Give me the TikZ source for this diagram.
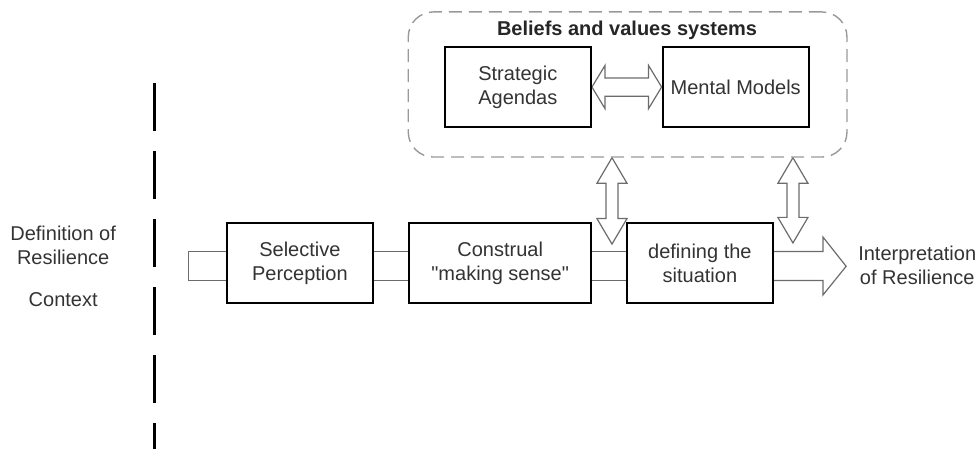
\documentclass[tikz,border=0pt]{standalone}
\usepackage{fontspec}
\setmainfont{Liberation Sans}
\usetikzlibrary{calc,backgrounds}
\tikzset{
  stage/.style={rectangle, draw=black, line width=1pt, fill=white, minimum width=2.57cm, minimum height=1.41cm, inner sep=2pt, align=center, text=black!80},
  widestage/.style={stage, minimum width=3.2cm},
  beliefs/.style={rectangle, draw=gray!80, dash pattern=on 6.5pt off 3.5pt, line width=0.7pt, rounded corners=0.44cm, minimum width=7.71cm, minimum height=2.55cm},
  hollow/.style={draw=gray!85!black, fill=white, line width=0.6pt},
  band/.style={draw=gray!85!black, line width=0.6pt, double=white, double distance=0.49cm},
  divider/.style={draw=black, line width=1.5pt, dash pattern=on 24pt off 10pt},
  sidetext/.style={align=center, text=black!80}
}

\begin{document}
\begin{tikzpicture}
  \useasboundingbox (0,0) rectangle (17.17,7.89);
  \draw[divider] (2.72,6.43) -- (2.72,0);
  \node[sidetext] (defres) at (1.11,3.58) {Definition of\\Resilience};
  \node[sidetext] (ctx) at (1.11,2.62) {Context};
  \node[beliefs] (bvs) at (11.03,6.405) {};
  \node[font=\bfseries, text=black!85] (title) at (11.02,7.36) {Beliefs and values systems};
  \node[stage] (sa) at (9.10,6.36) {Strategic\\Agendas};
  \node[stage] (mm) at (12.93,6.36) {Mental Models};
  \node[stage] (sel) at (5.27,3.27) {Selective\\Perception};
  \node[widestage] (con) at (8.79,3.27) {Construal\\\textquotedbl making sense\textquotedbl};
  \node[stage] (def) at (12.30,3.27) {defining the\\situation};
  \node[sidetext, anchor=west] (interp) at (14.96,3.22) {Interpretation\\of Resilience};
  \coordinate (out) at (14.87,3.21);
  \coordinate (v1b) at (10.755,3.60);
  \coordinate (v1a) at (v1b |- bvs.south);
  \coordinate (v2b) at (13.935,3.62);
  \coordinate (v2a) at (v2b |- bvs.south);
  \begin{scope}[on background layer]
    \draw[hollow] ($(sel.west)+(0,0.20)$) -- ++(-0.65,0) -- ++(0,-0.51) -- ++(0.65,0);
    \draw[band] ([yshift=-0.055cm]sel.east) -- ([yshift=-0.055cm]con.west);
    \draw[band] ([yshift=-0.055cm]con.east) -- ([yshift=-0.055cm]def.west);
    \draw[hollow] ($(def.east)+(0,0.20)$) -- ++(0.86,0) -- ++(0,0.255) -- (out) -- ($(def.east)+(0.86,-0.565)$) -- ++(0,0.255) -- ++(-0.86,0);
    \draw[hollow] (sa.east) -- ++(0.23,0.38) -- ++(0,-0.22) -- ($(mm.west)+(-0.23,0.16)$) -- ++(0,0.22) -- (mm.west) -- ++(-0.23,-0.38) -- ++(0,0.22) -- ($(sa.east)+(0.23,-0.16)$) -- ++(0,-0.22) -- cycle;
    \draw[hollow] (v1a) -- ++(0.265,-0.45) -- ++(-0.16,0) -- ($(v1b)+(0.105,0.45)$) -- ++(0.16,0) -- (v1b) -- ++(-0.265,0.45) -- ++(0.16,0) -- ($(v1a)+(-0.105,-0.45)$) -- ++(-0.16,0) -- cycle;
    \draw[hollow] (v2a) -- ++(0.265,-0.45) -- ++(-0.16,0) -- ($(v2b)+(0.105,0.45)$) -- ++(0.16,0) -- (v2b) -- ++(-0.265,0.45) -- ++(0.16,0) -- ($(v2a)+(-0.105,-0.45)$) -- ++(-0.16,0) -- cycle;
  \end{scope}
\end{tikzpicture}
\end{document}
